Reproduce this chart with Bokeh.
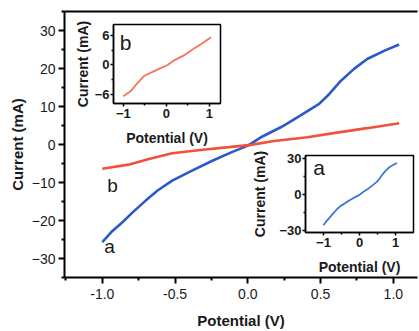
from bokeh.plotting import figure
from bokeh.models import FixedTicker, LinearAxis, NumeralTickFormatter, Column
from bokeh.core.properties import value
from bokeh.embed import file_html
from bokeh.resources import INLINE

# ---- data ----
pot_a = [-1.0, -0.94, -0.86, -0.79, -0.70, -0.62, -0.52, -0.38, -0.24, -0.11, 0.0,
         0.09, 0.23, 0.36, 0.49, 0.56, 0.64, 0.73, 0.82, 0.94, 1.04]
cur_a = [-25.7, -23.1, -20.4, -17.8, -14.7, -12.1, -9.5, -6.8, -4.2, -2.0, -0.3,
         1.9, 4.6, 7.6, 10.7, 13.3, 16.8, 19.9, 22.5, 24.7, 26.3]
pot_b = [-1.0, -0.82, -0.68, -0.52, -0.31, -0.13, 0.02, 0.18, 0.41, 0.59, 0.82, 1.04]
cur_b = [-6.4, -5.3, -3.8, -2.3, -1.4, -0.7, -0.1, 0.9, 1.9, 3.0, 4.3, 5.6]

main_xticks = [-1.0, -0.5, 0.0, 0.5, 1.0]
main_xminor = [-1.25, -0.75, -0.25, 0.25, 0.75]
main_yticks = [-30, -20, -10, 0, 10, 20, 30]
main_yminor = [-35, -25, -15, -5, 5, 15, 25, 35]
inset_xticks = [-1, 0, 1]
inset_xminor = [-0.5, 0.5]
inset_b_yticks = [-6, 0, 6]
inset_b_yminor = [-3, 3]
inset_a_yticks = [-30, 0, 30]
inset_a_yminor = [-15, 15]

main_labels = ["a", "b"]
main_label_x = [-0.95, -0.93]
main_label_y = [-26.8, -10.8]

BLUE = "#2b59c9"
RED = "#f2503a"
BLUE_L = "#3c7ad6"
RED_L = "#f4755a"
FONT = "Liberation Sans"
TXT = "#1a1a1a"

BL, BR = 64, 2  # shared left/right borders (Column aligns plot frames)


def style_axis(ax, lw, label_size, tick_size, bold_ticks):
    ax.axis_line_width = lw
    ax.axis_line_color = "black"
    ax.major_tick_line_width = lw
    ax.minor_tick_line_width = lw
    ax.major_tick_line_color = "black"
    ax.minor_tick_line_color = "black"
    ax.axis_label_text_font = FONT
    ax.axis_label_text_font_style = "bold"
    ax.axis_label_text_font_size = label_size
    ax.axis_label_text_color = TXT
    ax.major_label_text_font = FONT
    ax.major_label_text_font_size = tick_size
    ax.major_label_text_color = TXT
    ax.major_label_text_font_style = "bold" if bold_ticks else "normal"


# ---- main figure ----
p = figure(frame_width=353, frame_height=266, x_range=(-1.26, 1.166), y_range=(-35, 35),
           output_backend="svg", toolbar_location=None,
           min_border_left=BL, min_border_right=BR, min_border_top=11, min_border_bottom=54)
p.outline_line_color = None
p.xgrid.visible = False
p.ygrid.visible = False
p.line(pot_a, cur_a, line_color=BLUE, line_width=2.6)
p.line(pot_b, cur_b, line_color=RED, line_width=2.6)
p.text(main_label_x, main_label_y, text=main_labels, text_font=value(FONT), text_font_size="19px",
       text_align="center", text_baseline="middle", text_color=TXT)

p.xaxis.ticker = FixedTicker(ticks=main_xticks, minor_ticks=main_xminor)
p.xaxis.formatter = NumeralTickFormatter(format="0.0")
p.yaxis.ticker = FixedTicker(ticks=main_yticks, minor_ticks=main_yminor)
p.xaxis.axis_label = "Potential (V)"
p.yaxis.axis_label = "Current (mA)"
for ax in (p.xaxis[0], p.yaxis[0]):
    style_axis(ax, 2, "15px", "14px", False)
    ax.major_tick_out = 6
    ax.major_tick_in = 0
    ax.minor_tick_out = 3
    ax.minor_tick_in = 0
    ax.major_label_standoff = 3
p.xaxis.major_label_standoff = 5
p.xaxis.axis_label_standoff = 10
p.yaxis.axis_label_standoff = 3

top = LinearAxis(ticker=FixedTicker(ticks=[]), axis_line_width=2, axis_line_color="black",
                 major_tick_line_color=None, minor_tick_line_color=None,
                 major_label_text_font_size="0px")
p.add_layout(top, "above")


def make_inset(xr, yr, fw, fh, xs, ys, color, ymaj, ymin, lab, lx, ly,
               frame_left, frame_top, ystand):
    bt, bb = 12, 50
    q = figure(frame_width=fw, frame_height=fh, x_range=xr, y_range=yr,
               output_backend="svg", toolbar_location=None,
               min_border_left=BL, min_border_right=BR, min_border_top=bt, min_border_bottom=bb,
               styles={"position": "absolute", "left": f"{frame_left - BL}px",
                       "top": f"{frame_top - bt}px"})
    q.border_fill_alpha = 0
    q.background_fill_color = "white"
    q.outline_line_color = "black"
    q.outline_line_width = 1.5
    q.xgrid.visible = False
    q.ygrid.visible = False
    q.line(xs, ys, line_color=color, line_width=1.8)
    q.text([lx], [ly], text=[lab], text_font=value(FONT), text_font_size="21px",
           text_align="center", text_baseline="middle", text_color=TXT)
    q.xaxis.ticker = FixedTicker(ticks=inset_xticks, minor_ticks=inset_xminor)
    q.yaxis.ticker = FixedTicker(ticks=ymaj, minor_ticks=ymin)
    q.xaxis.axis_label = "Potential (V)"
    q.yaxis.axis_label = "Current (mA)"
    for ax in (q.xaxis[0], q.yaxis[0]):
        style_axis(ax, 1.5, "14px", "13px", True)
        ax.major_tick_out = 3
        ax.major_tick_in = 0
        ax.minor_tick_out = 2
        ax.minor_tick_in = 0
        ax.major_label_standoff = 1
    q.xaxis.major_label_standoff = 2
    q.xaxis.axis_label_standoff = 9
    q.yaxis.axis_label_standoff = ystand
    return q


qb = make_inset((-1.23, 1.26), (-7.9, 8.2), 107, 79, pot_b, cur_b, RED_L,
                inset_b_yticks, inset_b_yminor, "b", -0.95, 4.5, 113, 24, 1)
qa = make_inset((-1.5, 1.5), (-31.7, 32.5), 108, 77, pot_a, cur_a, BLUE_L,
                inset_a_yticks, inset_a_yminor, "a", -1.12, 22.5, 305, 155, 8)

layout = Column(children=[p, qb, qa], styles={"position": "relative"})
open("out.html", "w").write(file_html(layout, INLINE))
